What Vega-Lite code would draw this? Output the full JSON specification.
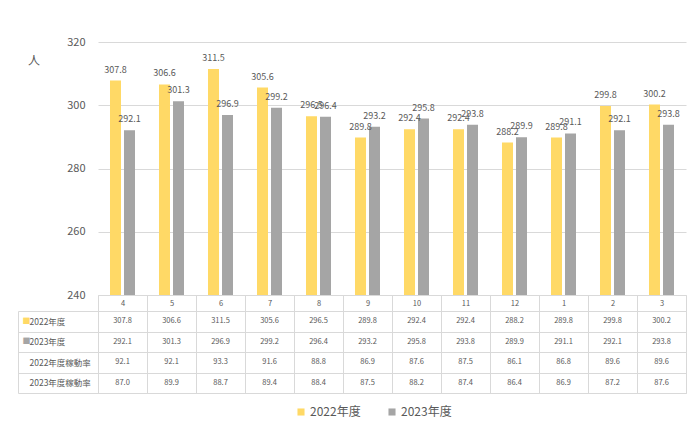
{
  "$schema": "https://vega.github.io/schema/vega-lite/v6.json",
  "background": "white",
  "padding": {"left": 17, "top": 36, "right": 5, "bottom": 5},
  "bounds": "flush",
  "spacing": 16,
  "config": {
    "font": "Noto Sans CJK JP",
    "view": {"stroke": null},
    "axis": {"labelColor": "#595959", "titleColor": "#595959", "gridColor": "#D9D9D9", "domainColor": "#D9D9D9", "tickColor": "#D9D9D9"}
  },
  "datasets": {
    "d": [
      {"month": 4, "2022年度": 307.8, "2023年度": 292.1, "2022年度稼動率": 92.1, "2023年度稼動率": 87.0},
      {"month": 5, "2022年度": 306.6, "2023年度": 301.3, "2022年度稼動率": 92.1, "2023年度稼動率": 89.9},
      {"month": 6, "2022年度": 311.5, "2023年度": 296.9, "2022年度稼動率": 93.3, "2023年度稼動率": 88.7},
      {"month": 7, "2022年度": 305.6, "2023年度": 299.2, "2022年度稼動率": 91.6, "2023年度稼動率": 89.4},
      {"month": 8, "2022年度": 296.5, "2023年度": 296.4, "2022年度稼動率": 88.8, "2023年度稼動率": 88.4},
      {"month": 9, "2022年度": 289.8, "2023年度": 293.2, "2022年度稼動率": 86.9, "2023年度稼動率": 87.5},
      {"month": 10, "2022年度": 292.4, "2023年度": 295.8, "2022年度稼動率": 87.6, "2023年度稼動率": 88.2},
      {"month": 11, "2022年度": 292.4, "2023年度": 293.8, "2022年度稼動率": 87.5, "2023年度稼動率": 87.4},
      {"month": 12, "2022年度": 288.2, "2023年度": 289.9, "2022年度稼動率": 86.1, "2023年度稼動率": 86.4},
      {"month": 1, "2022年度": 289.8, "2023年度": 291.1, "2022年度稼動率": 86.8, "2023年度稼動率": 86.9},
      {"month": 2, "2022年度": 299.8, "2023年度": 292.1, "2022年度稼動率": 89.6, "2023年度稼動率": 87.2},
      {"month": 3, "2022年度": 300.2, "2023年度": 293.8, "2022年度稼動率": 89.6, "2023年度稼動率": 87.6}
    ]
  },
  "vconcat": [
    {
      "width": 588,
      "height": 253,
      "data": {"name": "d"},
      "transform": [{"fold": ["2022年度", "2023年度"], "as": ["series", "value"]}],
      "encoding": {
        "x": {
          "field": "month", "type": "ordinal",
          "sort": [4, 5, 6, 7, 8, 9, 10, 11, 12, 1, 2, 3],
          "scale": {"paddingInner": 0, "paddingOuter": 0},
          "axis": {"title": null, "domain": true, "ticks": true, "tickBand": "extent", "tickSize": 16, "labelPadding": -8, "labelBaseline": "middle", "labelAngle": 0, "labelFontSize": 7.5, "grid": false}
        },
        "xOffset": {"field": "series", "type": "nominal", "scale": {"paddingInner": 0.214, "paddingOuter": 0.857}},
        "y": {
          "field": "value", "type": "quantitative",
          "scale": {"domain": [240, 320], "zero": false, "nice": false},
          "axis": {"title": "人", "titleAngle": 0, "titleX": -64.5, "titleY": 18, "titleAlign": "center", "titleBaseline": "middle", "titleFontSize": 12, "titleFontWeight": "normal", "domain": false, "ticks": false, "grid": true, "values": [240, 260, 280, 300, 320], "labelPadding": 13, "labelFontSize": 11}
        }
      },
      "layer": [
        {
          "mark": {"type": "bar", "clip": true},
          "encoding": {
            "color": {
              "field": "series", "type": "nominal",
              "scale": {"domain": ["2022年度", "2023年度"], "range": ["#FFD966", "#A5A5A5"]},
              "legend": {"orient": "none", "legendX": 197, "legendY": 364, "direction": "horizontal", "title": null, "symbolType": "square", "symbolSize": 50, "symbolStrokeWidth": 0, "labelFontSize": 12, "labelColor": "#595959", "columnPadding": 25, "labelOffset": 3}
            }
          }
        },
        {
          "mark": {"type": "text", "baseline": "bottom", "dy": -6, "fontSize": 9, "color": "#595959"},
          "encoding": {"text": {"field": "value", "type": "quantitative", "format": ".1f"}}
        }
      ]
    },
    {
      "width": 588,
      "height": 82,
      "view": {"stroke": "#D9D9D9"},
      "data": {"name": "d"},
      "transform": [{"fold": ["2022年度", "2023年度", "2022年度稼動率", "2023年度稼動率"], "as": ["row", "val"]}],
      "layer": [
        {
          "mark": {"type": "text", "fontSize": 7.5, "color": "#595959"},
          "encoding": {
            "x": {
              "field": "month", "type": "ordinal",
              "sort": [4, 5, 6, 7, 8, 9, 10, 11, 12, 1, 2, 3],
              "scale": {"paddingInner": 0, "paddingOuter": 0},
              "axis": {"orient": "top", "title": null, "labels": false, "ticks": false, "domain": false, "grid": true, "tickBand": "extent"}
            },
            "y": {
              "field": "row", "type": "nominal",
              "sort": ["2022年度", "2023年度", "2022年度稼動率", "2023年度稼動率"],
              "scale": {"paddingInner": 0, "paddingOuter": 0},
              "axis": {"title": null, "domain": true, "ticks": true, "tickSize": 80, "tickBand": "extent", "grid": true, "labelAlign": "left", "labelPadding": -11, "labelFontSize": 8.5, "labelBaseline": "middle"}
            },
            "text": {"field": "val", "type": "quantitative", "format": ".1f"}
          }
        },
        {
          "mark": {"type": "text", "text": ""},
          "encoding": {
            "y": {
              "field": "row", "type": "nominal",
              "sort": ["2022年度", "2023年度", "2022年度稼動率", "2023年度稼動率"],
              "scale": {"paddingInner": 0, "paddingOuter": 0},
              "axis": {"orient": "left", "offset": 80, "title": null, "domain": true, "ticks": false, "grid": false, "labelExpr": "datum.value === '2022年度' || datum.value === '2023年度' ? '■' : ''", "labelAlign": "left", "labelPadding": -4, "labelFontSize": 8, "labelBaseline": "middle", "labelColor": {"condition": {"test": "datum.value === '2022年度'", "value": "#FFD966"}, "value": "#A5A5A5"}}
            }
          }
        }
      ],
      "resolve": {"scale": {"y": "independent"}, "axis": {"y": "independent"}}
    }
  ]
}
